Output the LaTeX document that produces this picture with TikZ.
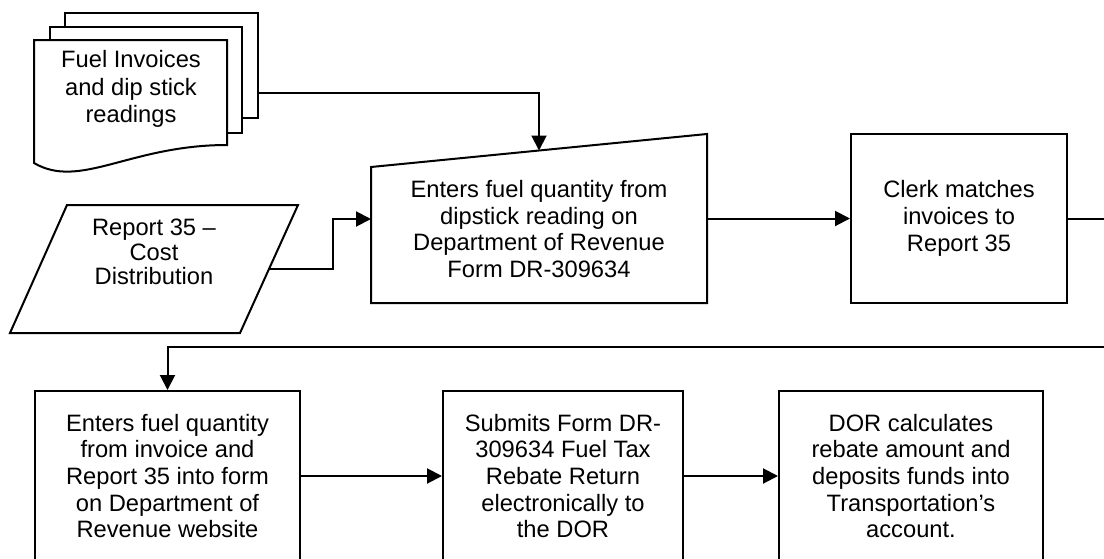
\documentclass[tikz,border=0pt]{standalone}
\usepackage{fontspec}
\setmainfont{Liberation Sans}
\usetikzlibrary{arrows.meta}
\begin{document}
\begin{tikzpicture}[x=1pt,y=-1pt,
  ln/.style={line width=2pt, line join=miter},
  shp/.style={draw, fill=white, line width=2pt},
  txt/.style={align=center, font=\fontsize{23.7pt}{26.7pt}\selectfont, inner sep=0pt},
  procbox/.style={draw, line width=2pt, inner sep=0pt, align=center,
    font=\fontsize{23.7pt}{26.7pt}\selectfont},
  arr/.style={ln, -{Triangle[length=15pt,width=15pt]}}]
\useasboundingbox (0,0) rectangle (1104,558);
\clip (0,0) rectangle (1104,558);

% document stack
\draw[shp] (65,13) rectangle (258,118);
\draw[shp] (50,27) rectangle (242,133);
\draw[shp] (34,40) -- (227,40) -- (227,145)
  .. controls (130,145) and (80,190) .. (34,163) -- cycle;
\node[txt, font=\fontsize{23.7pt}{27.5pt}\selectfont] (docs) at (131,89) {Fuel Invoices\\and dip stick\\readings};
\coordinate (stackR) at (258,93);

% parallelogram
\draw[shp] (67,205) -- (298,205) -- (240,333) -- (10,333) -- cycle;
\node[txt, font=\fontsize{23.7pt}{24.5pt}\selectfont] (rep) at (154,252) {Report 35 –\\Cost\\Distribution};
\coordinate (parR) at (269,269);

% manual input (trapezoid)
\draw[shp] (371,167) -- (707,134) -- (707,303) -- (371,303) -- cycle;
\node[txt] (enter) at (539,229) {Enters fuel quantity from\\dipstick reading on\\Department of Revenue\\Form DR-309634};
\coordinate (trapT) at (539,150.5);
\coordinate (trapL) at (371,219);
\coordinate (trapR) at (707,218.5);

% process boxes
\node[procbox, minimum width=216pt, minimum height=169pt] (clerk) at (959,218.5)
  {Clerk matches\\invoices to\\Report 35};
\node[procbox, minimum width=265pt, minimum height=170pt] (b1) at (167.5,476)
  {Enters fuel quantity\\from invoice and\\Report 35 into form\\on Department of\\Revenue website};
\node[procbox, minimum width=240pt, minimum height=170pt] (b2) at (563,476)
  {Submits Form DR-\\309634 Fuel Tax\\Rebate Return\\electronically to\\the DOR};
\node[procbox, minimum width=264pt, minimum height=170pt] (b3) at (911,476)
  {DOR calculates\\rebate amount and\\deposits funds into\\Transportation’s\\account.};

% connectors
\draw[arr] (stackR) -| (trapT);
\draw[arr] (parR) -- (333,269) |- (trapL);
\draw[arr] (trapR) -- (clerk.west);
\coordinate (turn) at (167.5,347);
\draw[arr] (clerk.east) -- ++(60,0) |- (turn) -- (b1.north);
\draw[arr] (b1.east) -- (b2.west);
\draw[arr] (b2.east) -- (b3.west);
\end{tikzpicture}
\end{document}
